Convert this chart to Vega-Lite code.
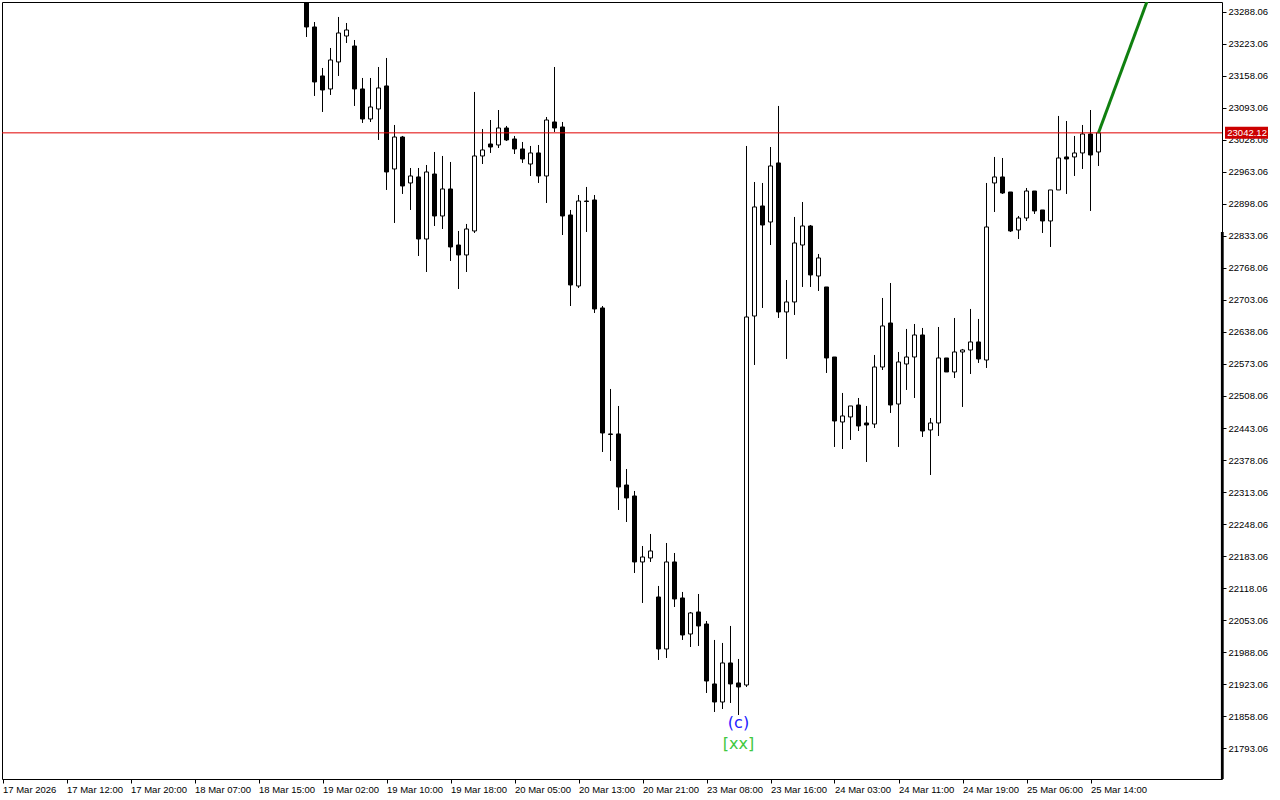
{
  "$schema": "https://vega.github.io/schema/vega-lite/v6.json",
  "width": 1220,
  "height": 777,
  "autosize": {"type": "none"},
  "padding": {"left": 2, "top": 2, "right": 58, "bottom": 21},
  "background": "white",
  "config": {
    "view": {"stroke": "black", "strokeWidth": 1},
    "font": "Liberation Sans",
    "axis": {"labelFont": "Liberation Sans", "labelFontSize": 9.5, "labelColor": "black", "tickColor": "black", "tickSize": 4, "domain": false, "grid": false, "title": null, "zindex": 0}
  },
  "datasets": {
    "candles": [
      {"i":38,"o":23332,"h":23352,"l":23236.7,"c":23257.0},
      {"i":39,"o":23257.0,"h":23267.1,"l":23117.0,"c":23145.4},
      {"i":40,"o":23157.6,"h":23173.8,"l":23084.5,"c":23129.1},
      {"i":41,"o":23131.2,"h":23214.4,"l":23119.0,"c":23190.0},
      {"i":42,"o":23186.0,"h":23277.3,"l":23157.6,"c":23244.8},
      {"i":43,"o":23238.7,"h":23265.1,"l":23224.5,"c":23250.9},
      {"i":44,"o":23218.4,"h":23230.6,"l":23096.7,"c":23131.2},
      {"i":45,"o":23131.2,"h":23153.5,"l":23062.2,"c":23070.3},
      {"i":46,"o":23070.3,"h":23153.5,"l":23064.2,"c":23094.6},
      {"i":47,"o":23090.6,"h":23175.8,"l":23027.7,"c":23133.2},
      {"i":48,"o":23137.3,"h":23194.1,"l":22926.2,"c":22962.7},
      {"i":49,"o":22968.8,"h":23058.1,"l":22859.2,"c":23033.7},
      {"i":50,"o":23033.7,"h":23035.8,"l":22918.1,"c":22934.3},
      {"i":51,"o":22940.4,"h":22970.8,"l":22885.6,"c":22954.6},
      {"i":52,"o":22952.6,"h":22970.8,"l":22792.2,"c":22826.7},
      {"i":53,"o":22826.7,"h":22976.9,"l":22759.7,"c":22962.7},
      {"i":54,"o":22958.6,"h":23003.3,"l":22853.1,"c":22873.4},
      {"i":55,"o":22873.4,"h":22995.2,"l":22847.0,"c":22928.2},
      {"i":56,"o":22928.2,"h":22983.0,"l":22782.1,"c":22810.5},
      {"i":57,"o":22814.5,"h":22843.0,"l":22725.2,"c":22794.3},
      {"i":58,"o":22794.3,"h":22857.2,"l":22759.7,"c":22847.0},
      {"i":59,"o":22843.0,"h":23125.1,"l":22838.9,"c":22995.2},
      {"i":60,"o":22995.2,"h":23050.0,"l":22978.9,"c":23007.4},
      {"i":61,"o":23019.5,"h":23068.2,"l":23001.3,"c":23013.4},
      {"i":62,"o":23017.5,"h":23088.5,"l":23011.4,"c":23052.0},
      {"i":63,"o":23052.0,"h":23056.1,"l":23025.6,"c":23027.7},
      {"i":64,"o":23029.7,"h":23035.8,"l":22999.2,"c":23009.4},
      {"i":65,"o":23009.4,"h":23023.6,"l":22981.0,"c":22989.1},
      {"i":66,"o":22978.9,"h":23015.5,"l":22954.6,"c":23001.3},
      {"i":67,"o":23001.3,"h":23017.5,"l":22940.4,"c":22954.6},
      {"i":68,"o":22954.6,"h":23074.3,"l":22899.8,"c":23068.2},
      {"i":69,"o":23064.2,"h":23175.8,"l":23043.9,"c":23052.0},
      {"i":70,"o":23054.0,"h":23064.2,"l":22834.8,"c":22873.4},
      {"i":71,"o":22875.4,"h":22885.6,"l":22690.7,"c":22733.4},
      {"i":72,"o":22731.3,"h":22916.0,"l":22727.3,"c":22903.8},
      {"i":73,"o":22903.8,"h":22932.3,"l":22840.9,"c":22902.8},
      {"i":74,"o":22905.9,"h":22916.0,"l":22676.5,"c":22684.7},
      {"i":75,"o":22686.7,"h":22690.7,"l":22394.4,"c":22433.0},
      {"i":76,"o":22431.0,"h":22522.3,"l":22376.2,"c":22430.0},
      {"i":77,"o":22431.0,"h":22487.8,"l":22276.7,"c":22323.4},
      {"i":78,"o":22327.4,"h":22359.9,"l":22252.3,"c":22301.1},
      {"i":79,"o":22305.1,"h":22315.3,"l":22148.8,"c":22171.2},
      {"i":80,"o":22171.2,"h":22203.6,"l":22088.0,"c":22181.3},
      {"i":81,"o":22179.3,"h":22228.0,"l":22171.2,"c":22193.5},
      {"i":82,"o":22100.1,"h":22122.5,"l":21972.3,"c":21994.6},
      {"i":83,"o":21994.6,"h":22209.7,"l":21976.3,"c":22171.2},
      {"i":84,"o":22171.2,"h":22189.4,"l":22079.8,"c":22096.1},
      {"i":85,"o":22098.1,"h":22110.3,"l":22012.9,"c":22023.0},
      {"i":86,"o":22025.0,"h":22069.7,"l":21998.6,"c":22067.7},
      {"i":87,"o":22069.7,"h":22106.2,"l":22000.7,"c":22041.3},
      {"i":88,"o":22045.3,"h":22051.4,"l":21905.3,"c":21929.6},
      {"i":89,"o":21923.6,"h":22012.9,"l":21866.7,"c":21887.0},
      {"i":90,"o":21887.0,"h":22006.8,"l":21872.8,"c":21966.2},
      {"i":91,"o":21966.2,"h":22041.3,"l":21885.0,"c":21923.6},
      {"i":92,"o":21925.6,"h":21974.3,"l":21860.6,"c":21917.5},
      {"i":93,"o":21921.5,"h":23015.5,"l":21917.5,"c":22668.4},
      {"i":94,"o":22670.4,"h":22942.4,"l":22571.0,"c":22891.7},
      {"i":95,"o":22893.7,"h":22940.4,"l":22686.7,"c":22855.1},
      {"i":96,"o":22861.2,"h":23013.4,"l":22814.5,"c":22974.9},
      {"i":97,"o":22981.0,"h":23096.7,"l":22666.4,"c":22678.6},
      {"i":98,"o":22678.6,"h":22743.5,"l":22583.2,"c":22698.9},
      {"i":99,"o":22698.9,"h":22871.4,"l":22672.5,"c":22818.6},
      {"i":100,"o":22814.5,"h":22901.8,"l":22729.3,"c":22853.1},
      {"i":101,"o":22853.1,"h":22855.1,"l":22729.3,"c":22753.7},
      {"i":102,"o":22751.6,"h":22796.3,"l":22721.2,"c":22788.2},
      {"i":103,"o":22729.3,"h":22729.3,"l":22554.8,"c":22585.2},
      {"i":104,"o":22587.2,"h":22587.2,"l":22404.6,"c":22457.3},
      {"i":105,"o":22455.3,"h":22514.2,"l":22400.5,"c":22467.5},
      {"i":106,"o":22465.5,"h":22487.8,"l":22418.8,"c":22487.8},
      {"i":107,"o":22489.8,"h":22504.0,"l":22437.0,"c":22447.2},
      {"i":108,"o":22453.3,"h":22487.8,"l":22374.1,"c":22449.2},
      {"i":109,"o":22451.2,"h":22591.3,"l":22443.1,"c":22566.9},
      {"i":110,"o":22566.9,"h":22707.0,"l":22560.8,"c":22650.2},
      {"i":111,"o":22656.2,"h":22737.4,"l":22473.6,"c":22489.8},
      {"i":112,"o":22491.8,"h":22597.4,"l":22404.6,"c":22577.1},
      {"i":113,"o":22573.0,"h":22644.1,"l":22520.3,"c":22587.2},
      {"i":114,"o":22587.2,"h":22654.2,"l":22504.0,"c":22631.9},
      {"i":115,"o":22631.9,"h":22646.1,"l":22424.9,"c":22437.0},
      {"i":116,"o":22439.1,"h":22463.4,"l":22347.7,"c":22453.3},
      {"i":117,"o":22453.3,"h":22648.1,"l":22426.9,"c":22585.2},
      {"i":118,"o":22585.2,"h":22585.2,"l":22556.8,"c":22556.8},
      {"i":119,"o":22556.8,"h":22666.4,"l":22544.6,"c":22597.4},
      {"i":120,"o":22597.4,"h":22603.5,"l":22485.8,"c":22601.4},
      {"i":121,"o":22601.4,"h":22684.7,"l":22552.7,"c":22617.7},
      {"i":122,"o":22617.7,"h":22664.4,"l":22575.1,"c":22583.2},
      {"i":123,"o":22581.1,"h":22940.4,"l":22564.9,"c":22851.1},
      {"i":124,"o":22940.4,"h":22993.2,"l":22881.5,"c":22952.6},
      {"i":125,"o":22952.6,"h":22991.1,"l":22918.1,"c":22920.1},
      {"i":126,"o":22922.1,"h":22922.1,"l":22840.9,"c":22843.0},
      {"i":127,"o":22845.0,"h":22873.4,"l":22826.7,"c":22869.3},
      {"i":128,"o":22869.3,"h":22930.2,"l":22863.3,"c":22924.1},
      {"i":129,"o":22924.1,"h":22924.1,"l":22877.5,"c":22883.6},
      {"i":130,"o":22885.6,"h":22885.6,"l":22838.9,"c":22863.3},
      {"i":131,"o":22863.3,"h":22926.2,"l":22810.5,"c":22926.2},
      {"i":132,"o":22926.2,"h":23076.4,"l":22926.2,"c":22991.1},
      {"i":133,"o":22993.2,"h":23066.2,"l":22918.1,"c":22989.1},
      {"i":134,"o":22993.2,"h":23035.8,"l":22954.6,"c":23001.3},
      {"i":135,"o":23001.3,"h":23058.1,"l":22968.8,"c":23039.8},
      {"i":136,"o":23039.8,"h":23088.5,"l":22883.6,"c":22997.2},
      {"i":137,"o":23003.3,"h":23044.0,"l":22974.9,"c":23042.12}
    ],
    "last": [{"price": 23042.12, "label": "23042.12"}],
    "trend": [{"i": 137, "price": 23042.12}, {"i": 143.2, "price": 23314.7}],
    "scrollbar": [{"top": 22840.9, "bottom": 21730.7}],
    "waves": [
      {"i": 92, "price": 21844.4, "text": "(c)", "kind": "wave"},
      {"i": 92, "price": 21801.8, "text": "[xx]", "kind": "degree"}
    ]
  },
  "layer": [
    {
      "data": {"name": "candles"},
      "mark": {"type": "rule", "color": "black", "strokeWidth": 1, "clip": true},
      "encoding": {
        "x": {"field": "i", "type": "quantitative",
          "scale": {"domain": [-0.0625, 152.4375], "nice": false, "zero": false, "padding": 0},
          "axis": {"orient": "bottom", "values": [0,8,16,24,32,40,48,56,64,72,80,88,96,104,112,120,128,136], "tickCount": 40,
            "labelExpr": "['17 Mar 2026','17 Mar 12:00','17 Mar 20:00','18 Mar 07:00','18 Mar 15:00','19 Mar 02:00','19 Mar 10:00','19 Mar 18:00','20 Mar 05:00','20 Mar 13:00','20 Mar 21:00','23 Mar 08:00','23 Mar 16:00','24 Mar 03:00','24 Mar 11:00','24 Mar 19:00','25 Mar 06:00','25 Mar 14:00'][round(datum.value/8)]",
            "labelAlign": "left", "labelBaseline": "top", "labelPadding": 1, "labelDx": 1, "labelFlush": false, "labelOverlap": false}},
        "y": {"field": "l", "type": "quantitative",
          "scale": {"domain": [21730.7, 23307.7], "nice": false, "zero": false, "padding": 0},
          "axis": {"orient": "right", "values": [23288.06,23223.06,23158.06,23093.06,23028.06,22963.06,22898.06,22833.06,22768.06,22703.06,22638.06,22573.06,22508.06,22443.06,22378.06,22313.06,22248.06,22183.06,22118.06,22053.06,21988.06,21923.06,21858.06,21793.06], "tickCount": 40,
            "format": ".2f", "labelPadding": 2, "labelBaseline": "middle", "labelFlush": false, "labelOverlap": false}},
        "y2": {"field": "h"}
      }
    },
    {
      "data": {"name": "candles"},
      "mark": {"type": "bar", "size": 4, "stroke": "black", "strokeWidth": 1, "clip": true},
      "encoding": {
        "x": {"field": "i", "type": "quantitative"},
        "y": {"field": "o", "type": "quantitative"},
        "y2": {"field": "c"},
        "fill": {"condition": {"test": "datum.c < datum.o", "value": "black"}, "value": "white"}
      }
    },
    {
      "data": {"name": "last"},
      "mark": {"type": "rule", "color": "#e00000", "strokeWidth": 1},
      "encoding": {"y": {"field": "price", "type": "quantitative"}}
    },
    {
      "data": {"name": "trend"},
      "mark": {"type": "line", "color": "#108010", "strokeWidth": 3, "clip": true},
      "encoding": {
        "x": {"field": "i", "type": "quantitative"},
        "y": {"field": "price", "type": "quantitative"}
      }
    },
    {
      "data": {"name": "last"},
      "mark": {"type": "tick", "orient": "vertical", "size": 12, "thickness": 43, "color": "#cc0000", "opacity": 1},
      "encoding": {
        "x": {"datum": 155.5, "type": "quantitative"},
        "y": {"field": "price", "type": "quantitative"}
      }
    },
    {
      "data": {"name": "last"},
      "mark": {"type": "text", "color": "white", "align": "left", "baseline": "middle", "fontSize": 9.5, "font": "Liberation Sans"},
      "encoding": {
        "x": {"datum": 153.1, "type": "quantitative"},
        "y": {"field": "price", "type": "quantitative"},
        "text": {"field": "label"}
      }
    },
    {
      "data": {"name": "scrollbar"},
      "mark": {"type": "rect", "color": "black", "opacity": 1},
      "encoding": {
        "x": {"datum": 152.3, "type": "quantitative"},
        "x2": {"datum": 152.65},
        "y": {"field": "top", "type": "quantitative"},
        "y2": {"field": "bottom"}
      }
    },
    {
      "data": {"name": "waves"},
      "mark": {"type": "text", "align": "center", "baseline": "middle", "fontSize": 16, "font": "DejaVu Sans"},
      "encoding": {
        "x": {"field": "i", "type": "quantitative"},
        "y": {"field": "price", "type": "quantitative"},
        "text": {"field": "text"},
        "color": {"field": "kind", "type": "nominal", "scale": {"domain": ["wave", "degree"], "range": ["#2020ff", "#40c840"]}, "legend": null}
      }
    }
  ]
}
